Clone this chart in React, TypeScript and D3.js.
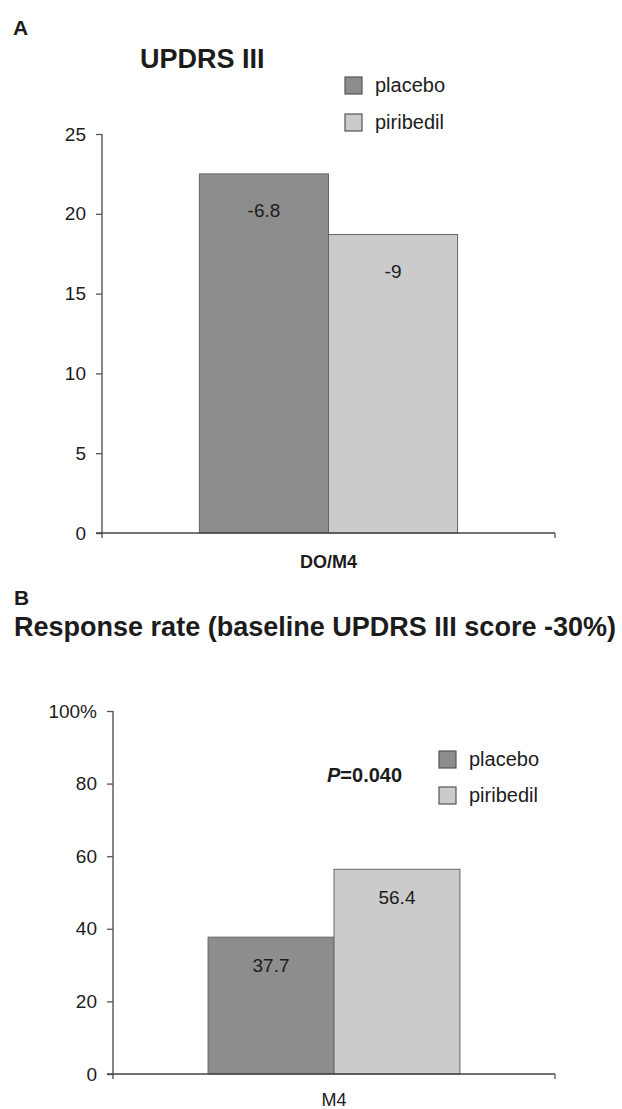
import React, { useRef, useEffect } from 'react'
import { select, scaleLinear, scaleBand, axisLeft } from 'd3'

// panel A: UPDRS III at DO/M4
const seriesNames = ['placebo', 'piribedil']
const updrsCategories = ['DO/M4']
const updrsValues = [22.5, 18.7]
const updrsLabels = ['-6.8', '-9']
const updrsTicks = [0, 5, 10, 15, 20, 25]

// panel B: response rate at M4
const responseCategories = ['M4']
const responseValues = [37.7, 56.4]
const responseLabels = ['37.7', '56.4']
const responseTicks = [0, 20, 40, 60, 80, 100]

const colors = ['#8d8d8d', '#cbcbcb']
const font = '"Liberation Sans", Arial, sans-serif'
const ink = '#1c1c1c'

function Panel({ top, bottom, left, right, domainMax, ticks, tickFmt, categories, values, labels, labelDy, catBold, catY }) {
    const axisRef = useRef()

    const y = scaleLinear().domain([0, domainMax]).range([bottom, top])
    const x0 = scaleBand().domain(categories).range([left, right]).padding(0.274)
    const x1 = scaleBand().domain(seriesNames).range([0, x0.bandwidth()])

    useEffect(() => {
        const g = select(axisRef.current)
        g.selectAll('*').remove()
        const yAxis = axisLeft(y)
            .tickValues(ticks)
            .tickFormat(tickFmt)
            .tickSize(6)
            .tickSizeOuter(0)
            .tickPadding(10)
        g.attr('transform', `translate(${left},0)`).call(yAxis)
        g.select('.domain').remove()
        g.selectAll('.tick line').attr('stroke', '#555').attr('stroke-width', 1.3)
        g.selectAll('.tick text')
            .attr('font-family', font)
            .attr('font-size', 19)
            .attr('fill', ink)
    }, [])

    return (
        <g>
            {categories.map(c => (
                <g key={c} transform={`translate(${x0(c)},0)`}>
                    {seriesNames.map((s, i) => (
                        <g key={s}>
                            <rect x={x1(s)} y={y(values[i])} width={x1.bandwidth()} height={y(0) - y(values[i])}
                                fill={colors[i]} stroke="#666" strokeWidth={1} />
                            <text x={x1(s) + x1.bandwidth() / 2} y={y(values[i]) + labelDy} textAnchor="middle"
                                fontFamily={font} fontSize={19} fill={ink}>{labels[i]}</text>
                        </g>
                    ))}
                    <text x={x0.bandwidth() / 2} y={catY} textAnchor="middle" fontFamily={font} fontSize={18}
                        fontWeight={catBold ? 'bold' : 'normal'} fill={ink}>{c}</text>
                </g>
            ))}
            <g ref={axisRef} />
            <line x1={left} x2={left} y1={y(domainMax)} y2={y(0) + 5} stroke="#555" strokeWidth={1.4} />
            <line x1={left - 6} x2={right} y1={y(0)} y2={y(0)} stroke="#444" strokeWidth={1.6} />
            <line x1={right} x2={right} y1={y(0)} y2={y(0) + 5} stroke="#555" strokeWidth={1.3} />
        </g>
    )
}

function Legend({ x, y, gap }) {
    return (
        <g>
            {seriesNames.map((s, i) => (
                <g key={s} transform={`translate(${x},${y + i * gap})`}>
                    <rect x={0} y={0} width={17} height={17} fill={colors[i]} stroke="#555" strokeWidth={1.2} />
                    <text x={30} y={15} fontFamily={font} fontSize={20} fill={ink}>{s}</text>
                </g>
            ))}
        </g>
    )
}

export default function App() {
    return (
        <svg width={622} height={1109} style={{ position: 'absolute', left: 0, top: 0, background: '#fff' }}>
            <rect width={622} height={1109} fill="#fff" />
            <text x={13} y={35} fontFamily={font} fontSize={21} fontWeight="bold" fill={ink}>A</text>
            <text x={140} y={68} fontFamily={font} fontSize={27} fontWeight="bold" fill={ink}>UPDRS III</text>
            <Legend x={345} y={77} gap={37} />
            <Panel top={134} bottom={533} left={102} right={555} domainMax={25} ticks={updrsTicks}
                tickFmt={d => String(d)} categories={updrsCategories} values={updrsValues} labels={updrsLabels}
                labelDy={43} catBold={true} catY={568} />

            <text x={14} y={605} fontFamily={font} fontSize={21} fontWeight="bold" fill={ink}>B</text>
            <text x={14} y={636} fontFamily={font} fontSize={27} fontWeight="bold" fill={ink}
                textLength={602} lengthAdjust="spacingAndGlyphs">Response rate (baseline UPDRS III score -30%)</text>
            <text x={327} y={782} fontFamily={font} fontSize={20} fontWeight="bold" fill={ink}>
                <tspan fontStyle="italic">P</tspan>=0.040
            </text>
            <Legend x={439} y={751} gap={36} />
            <Panel top={711} bottom={1074} left={113} right={555} domainMax={100} ticks={responseTicks}
                tickFmt={d => (d === 100 ? '100%' : String(d))} categories={responseCategories}
                values={responseValues} labels={responseLabels} labelDy={35} catBold={false} catY={1106} />
        </svg>
    )
}
